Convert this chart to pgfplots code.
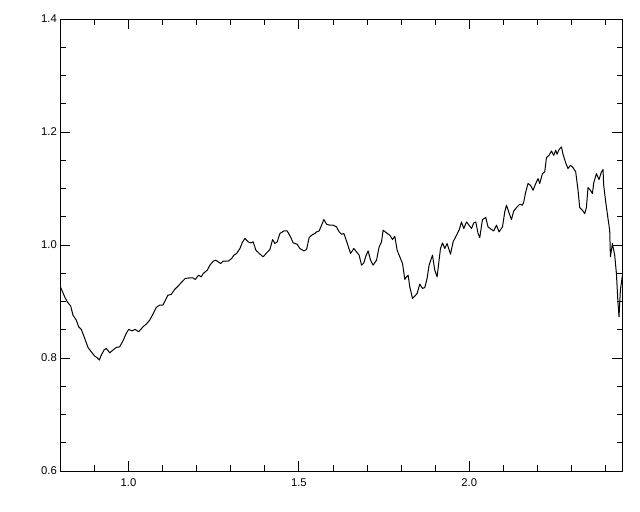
\documentclass[border=0pt]{standalone}
\usepackage{pgfplots}
\pgfplotsset{compat=1.18}
\usepackage{fontspec}
\setmainfont{Liberation Sans}
\begin{document}
\begin{tikzpicture}
\useasboundingbox (-60.3bp,-41bp) rectangle (579.7bp,471bp);
\begin{axis}[
  scale only axis,
  width=562bp, height=452bp,
  xmin=0.8, xmax=2.449, ymin=0.6, ymax=1.4,
  xtick={1.0,1.5,2.0},
  minor xtick={0.9,1.1,1.2,1.3,1.4,1.6,1.7,1.8,1.9,2.1,2.2,2.3,2.4},
  ytick={0.6,0.8,1.0,1.2,1.4},
  minor ytick={0.65,0.7,0.75,0.85,0.9,0.95,1.05,1.1,1.15,1.25,1.3,1.35},
  major tick length=10bp, minor tick length=5.5bp,
  tick align=inside,
  tick style={black, line width=0.9bp},
  axis line style={black, line width=1bp},
  ticklabel style={font=\fontsize{11.3}{13}\selectfont},
  xticklabel style={yshift=-4.5bp},
  yticklabel style={xshift=0bp},
  /pgf/number format/.cd, fixed, fixed zerofill, precision=1, assume math mode=true,
]
\addplot[black, line width=1bp, line join=round] coordinates {
(0.8012,0.9248) (0.8129,0.9082) (0.8205,0.8994) (0.8305,0.8918) (0.8372,0.8759)
(0.8469,0.8670) (0.8540,0.8552) (0.8616,0.8506) (0.8716,0.8347) (0.8812,0.8187)
(0.8909,0.8110) (0.9009,0.8034) (0.9085,0.8004) (0.9144,0.7963) (0.9202,0.8051)
(0.9282,0.8140) (0.9349,0.8170) (0.9449,0.8092) (0.9545,0.8140) (0.9642,0.8187)
(0.9742,0.8198) (0.9839,0.8304) (0.9935,0.8435) (1.0006,0.8506) (1.0103,0.8481)
(1.0199,0.8506) (1.0299,0.8463) (1.0425,0.8552) (1.0522,0.8599) (1.0622,0.8670)
(1.0718,0.8776) (1.0815,0.8895) (1.0915,0.8935) (1.1012,0.8935) (1.1108,0.9054)
(1.1158,0.9112) (1.1255,0.9125) (1.1355,0.9213) (1.1452,0.9271) (1.1569,0.9347)
(1.1666,0.9408) (1.1795,0.9418) (1.1891,0.9418) (1.1959,0.9390) (1.2059,0.9466)
(1.2135,0.9436) (1.2194,0.9496) (1.2311,0.9554) (1.2390,0.9643) (1.2487,0.9714)
(1.2566,0.9731) (1.2633,0.9701) (1.2704,0.9673) (1.2780,0.9714) (1.2927,0.9714)
(1.3026,0.9761) (1.3094,0.9820) (1.3173,0.9850) (1.3270,0.9938) (1.3349,1.0055)
(1.3416,1.0115) (1.3513,1.0055) (1.3584,1.0037) (1.3660,1.0055) (1.3739,0.9908)
(1.3836,0.9850) (1.3953,0.9790) (1.4053,0.9860) (1.4150,0.9920) (1.4229,1.0097)
(1.4296,1.0027) (1.4364,1.0055) (1.4443,1.0203) (1.4560,1.0249) (1.4657,1.0249)
(1.4757,1.0143) (1.4833,1.0037) (1.4950,1.0014) (1.5029,0.9938) (1.5147,0.9896)
(1.5226,0.9920) (1.5302,1.0133) (1.5402,1.0186) (1.5469,1.0203) (1.5519,1.0232)
(1.5595,1.0249) (1.5666,1.0350) (1.5733,1.0451) (1.5812,1.0368) (1.5909,1.0350)
(1.6006,1.0350) (1.6106,1.0320) (1.6182,1.0232) (1.6252,1.0191) (1.6320,1.0203)
(1.6349,1.0156) (1.6416,1.0037) (1.6516,0.9850) (1.6613,0.9938) (1.6692,0.9878)
(1.6768,0.9820) (1.6839,0.9643) (1.6906,0.9683) (1.6965,0.9802) (1.7032,0.9896)
(1.7103,0.9731) (1.7179,0.9643) (1.7279,0.9731) (1.7355,0.9966) (1.7425,1.0055)
(1.7472,1.0262) (1.7572,1.0214) (1.7669,1.0173) (1.7748,1.0097) (1.7815,1.0156)
(1.7883,0.9908) (1.7962,0.9790) (1.8041,0.9673) (1.8109,0.9390) (1.8158,0.9436)
(1.8205,0.9466) (1.8255,0.9259) (1.8334,0.9054) (1.8402,0.9095) (1.8469,0.9142)
(1.8548,0.9307) (1.8628,0.9231) (1.8695,0.9248) (1.8762,0.9408) (1.8821,0.9643)
(1.8921,0.9820) (1.8988,0.9554) (1.9056,0.9436) (1.9155,0.9938) (1.9214,1.0037)
(1.9282,0.9938) (1.9349,1.0027) (1.9449,0.9837) (1.9525,1.0055) (1.9625,1.0173)
(1.9701,1.0262) (1.9771,1.0408) (1.9839,1.0292) (1.9918,1.0408) (1.9994,1.0350)
(2.0065,1.0292) (2.0132,1.0391) (2.0191,1.0408) (2.0258,1.0203) (2.0308,1.0133)
(2.0387,1.0451) (2.0484,1.0486) (2.0551,1.0320) (2.0651,1.0274) (2.0718,1.0249)
(2.0798,1.0350) (2.0874,1.0232) (2.0974,1.0320) (2.1041,1.0585) (2.1091,1.0704)
(2.1167,1.0568) (2.1238,1.0451) (2.1305,1.0603) (2.1402,1.0674) (2.1481,1.0722)
(2.1560,1.0704) (2.1598,1.0762) (2.1657,1.0939) (2.1724,1.1088) (2.1795,1.1057)
(2.1871,1.0969) (2.1950,1.1088) (2.2018,1.1176) (2.2067,1.1088) (2.2147,1.1264)
(2.2214,1.1293) (2.2264,1.1547) (2.2340,1.1588) (2.2411,1.1664) (2.2478,1.1588)
(2.2537,1.1676) (2.2575,1.1606) (2.2633,1.1689) (2.2704,1.1735) (2.2751,1.1606)
(2.2830,1.1452) (2.2897,1.1353) (2.2968,1.1411) (2.3044,1.1370) (2.3123,1.1293)
(2.3191,1.0969) (2.3240,1.0663) (2.3320,1.0615) (2.3387,1.0557) (2.3437,1.0663)
(2.3484,1.1017) (2.3554,1.0969) (2.3613,1.0911) (2.3651,1.1098) (2.3730,1.1264)
(2.3806,1.1158) (2.3877,1.1293) (2.3924,1.1335) (2.3944,1.1057) (2.4003,1.0762)
(2.4070,1.0469) (2.4120,1.0262) (2.4141,0.9790) (2.4199,1.0027) (2.4267,0.9820)
(2.4317,0.9496) (2.4364,0.8966) (2.4393,0.8729) (2.4434,0.9201) (2.4493,0.9466)
};
\end{axis}
\end{tikzpicture}
\end{document}
